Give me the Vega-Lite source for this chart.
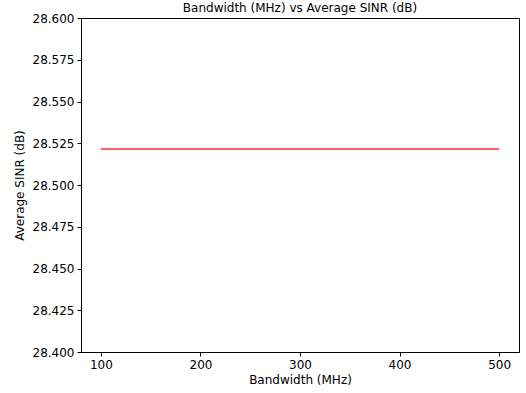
{
  "$schema": "https://vega.github.io/schema/vega-lite/v6.json",
  "autosize": {"type": "none"},
  "width": 438,
  "height": 334,
  "padding": {"left": 81, "top": 18, "right": 7, "bottom": 41},
  "background": "white",
  "title": {"text": "Bandwidth (MHz) vs Average SINR (dB)", "font": "DejaVu Sans", "fontSize": 12, "fontWeight": "normal", "color": "black", "offset": -3, "anchor": "middle"},
  "config": {
    "view": {"stroke": "black", "strokeWidth": 1},
    "axis": {"grid": false, "domainColor": "black", "tickColor": "black", "labelColor": "black", "titleColor": "black", "labelFont": "DejaVu Sans", "titleFont": "DejaVu Sans", "labelFontSize": 12, "titleFontSize": 12, "titleFontWeight": "normal", "tickSize": 4, "labelPadding": 3}
  },
  "data": {"values": [
    {"bw": 100, "sinr": 28.5216},
    {"bw": 200, "sinr": 28.5216},
    {"bw": 300, "sinr": 28.5216},
    {"bw": 400, "sinr": 28.5216},
    {"bw": 500, "sinr": 28.5216}
  ]},
  "mark": {"type": "line", "color": "#ff3030", "strokeWidth": 1.5},
  "encoding": {
    "x": {"field": "bw", "type": "quantitative", "title": "Bandwidth (MHz)", "scale": {"domain": [80, 520], "nice": false, "zero": false}, "axis": {"values": [100, 200, 300, 400, 500], "titlePadding": 4}},
    "y": {"field": "sinr", "type": "quantitative", "title": "Average SINR (dB)", "scale": {"domain": [28.4, 28.6], "nice": false, "zero": false}, "axis": {"values": [28.4, 28.425, 28.45, 28.475, 28.5, 28.525, 28.55, 28.575, 28.6], "format": ".3f", "titlePadding": 6}}
  }
}
